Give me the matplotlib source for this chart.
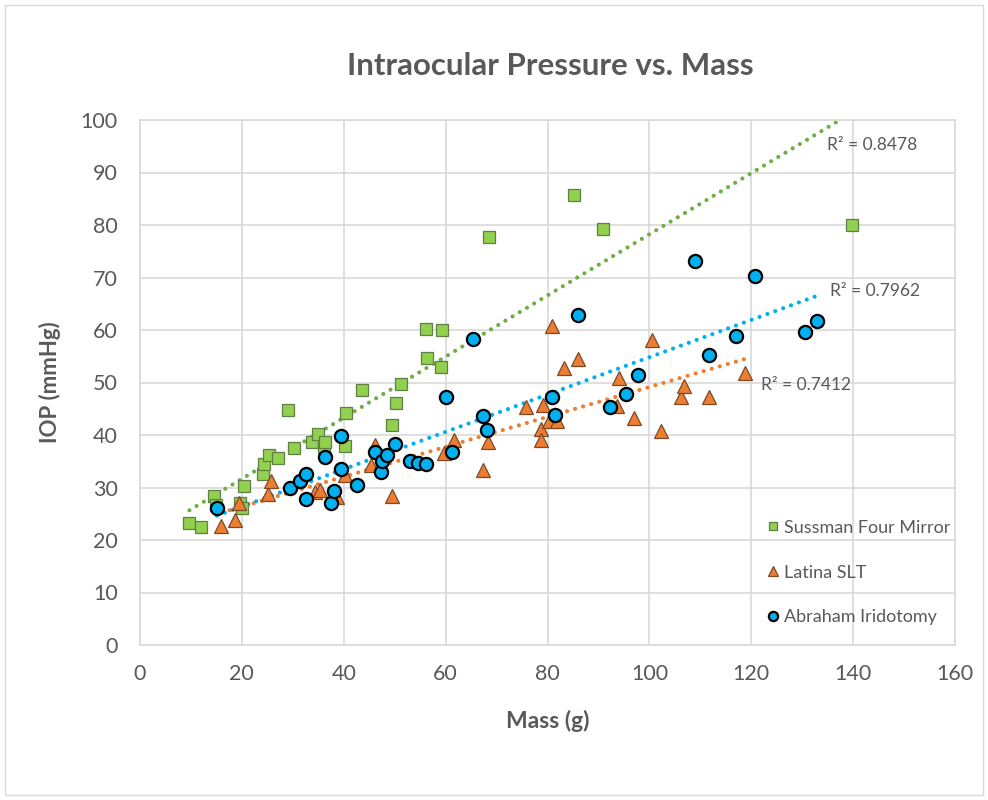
import numpy as np
import matplotlib.pyplot as plt
from matplotlib.patches import Rectangle

# Sussman Four Mirror
sus_x = [9.7, 12.0, 14.5, 15.0, 19.6, 20.0, 20.5, 24.2, 24.4, 25.3, 27.0, 29.1, 30.3,
         33.8, 35.0, 36.1, 36.4, 40.3, 40.5, 43.5, 49.5, 50.2, 51.3, 56.1, 56.3, 59.0,
         59.3, 68.6, 85.3, 90.8, 139.8]
sus_y = [23.3, 22.5, 28.4, 26.7, 27.0, 26.1, 30.2, 32.6, 34.5, 36.1, 35.6, 44.7, 37.6,
         38.6, 40.1, 37.7, 38.6, 37.9, 44.1, 48.5, 41.9, 46.1, 49.7, 60.2, 54.6, 52.9,
         60.0, 77.7, 85.8, 79.3, 80.0]

# Latina SLT
lat_x = [16.0, 18.7, 19.5, 25.2, 25.7, 34.4, 35.4, 38.7, 40.3, 45.3, 46.1, 49.4, 59.7,
         61.6, 67.4, 68.3, 75.8, 78.7, 78.7, 79.2, 80.2, 80.9, 81.9, 83.3, 86.0, 93.6,
         94.1, 96.9, 100.6, 102.3, 106.2, 106.7, 111.7, 118.7]
lat_y = [22.6, 23.9, 27.0, 28.8, 31.3, 29.1, 29.5, 28.1, 32.4, 34.2, 38.1, 28.4, 36.5,
         39.1, 33.3, 38.6, 45.4, 41.1, 39.0, 45.8, 42.6, 60.7, 42.6, 52.8, 54.5, 45.5,
         50.9, 43.2, 58.1, 40.7, 47.2, 49.3, 47.3, 51.9]

# Abraham Iridotomy
abr_x = [15.1, 29.5, 31.4, 32.5, 32.5, 36.3, 37.5, 38.1, 39.4, 39.5, 42.6, 46.1, 47.3,
         47.6, 48.5, 50.1, 53.0, 54.6, 56.2, 60.0, 61.2, 65.4, 67.4, 68.2, 80.8, 81.4,
         86.0, 92.2, 95.5, 97.8, 108.9, 111.8, 117.1, 120.8, 130.5, 132.9]
abr_y = [26.1, 29.9, 31.3, 27.9, 32.6, 35.9, 27.0, 29.4, 33.6, 39.8, 30.5, 36.7, 33.0,
         35.0, 36.2, 38.2, 35.1, 34.6, 34.4, 47.2, 36.7, 58.2, 43.7, 40.9, 47.2, 43.8,
         62.8, 45.3, 47.8, 51.5, 73.1, 55.2, 58.8, 70.2, 59.7, 61.8]

r2_labels = ["R² = 0.8478", "R² = 0.7412", "R² = 0.7962"]

plt.rcParams['font.family'] = ['Lato', 'DejaVu Sans']
TXT = "#595959"
GRID = "#d9d9d9"

fig = plt.figure(figsize=(9.88, 8.0), dpi=100)
fig.patches.append(Rectangle((0.005, 0.006), 0.99, 0.988, transform=fig.transFigure,
                             fill=False, edgecolor=GRID, lw=1))
ax = fig.add_axes([0.1417, 0.19375, 0.8249, 0.65625])

series = [
    ("Sussman Four Mirror", sus_x, sus_y, "s", "#92d050", "#5f7f45", 0.9, 8.5, "#70ad47"),
    ("Latina SLT", lat_x, lat_y, "^", "#ed7d31", "#7a4a2a", 0.9, 9.5, "#ed7d31"),
    ("Abraham Iridotomy", abr_x, abr_y, "o", "#00b0f0", "black", 1.6, 9.5, "#00b0f0"),
]

# dotted linear trendlines (drawn first, under the markers)
for name, xs, ys, mk, fc, ec, ew, ms, tc in series:
    xs = np.array(xs)
    k, b = np.polyfit(xs, ys, 1)
    xx = np.linspace(xs.min(), xs.max(), 200)
    ax.plot(xx, k * xx + b, color=tc, lw=3, ls=(0, (0.01, 2.0)),
            dash_capstyle="round", zorder=2)

for name, xs, ys, mk, fc, ec, ew, ms, tc in series:
    ax.plot(xs, ys, ls="none", marker=mk, ms=ms, mfc=fc, mec=ec, mew=ew,
            label=name, zorder=3)

ax.text(134.8, 95.2, r2_labels[0], color=TXT, fontsize=12.5, va="center")
ax.text(122.0, 49.6, r2_labels[1], color=TXT, fontsize=12.5, va="center")
ax.text(135.4, 67.4, r2_labels[2], color=TXT, fontsize=12.5, va="center")

ax.set_xlim(0, 160)
ax.set_ylim(0, 100)
ax.set_xticks(np.arange(0, 161, 20))
ax.set_yticks(np.arange(0, 101, 10))
ax.grid(True, color=GRID, lw=1.2)
ax.set_axisbelow(True)
for s in ax.spines.values():
    s.set_color(GRID)
    s.set_linewidth(1.2)
ax.tick_params(length=0, labelsize=15.5, labelcolor=TXT)
ax.tick_params(axis="y", pad=16)
ax.tick_params(axis="x", pad=14)

ax.set_xlabel("Mass (g)", fontsize=16.5, fontweight="bold", color=TXT, labelpad=18)
ax.set_ylabel("IOP (mmHg)", fontsize=16, fontweight="bold", color=TXT, labelpad=14)
fig.text(0.557, 0.918, "Intraocular Pressure vs. Mass", ha="center", va="center",
         fontsize=22.5, fontweight="bold", color=TXT)

leg = ax.legend(loc="lower left", bbox_to_anchor=(0.755, 0.02), frameon=False,
                fontsize=13, labelspacing=1.6, handletextpad=0.1, handlelength=1.0,
                markerscale=0.7, borderpad=0)
for t in leg.get_texts():
    t.set_color(TXT)

fig.savefig("out.png", dpi=100)
